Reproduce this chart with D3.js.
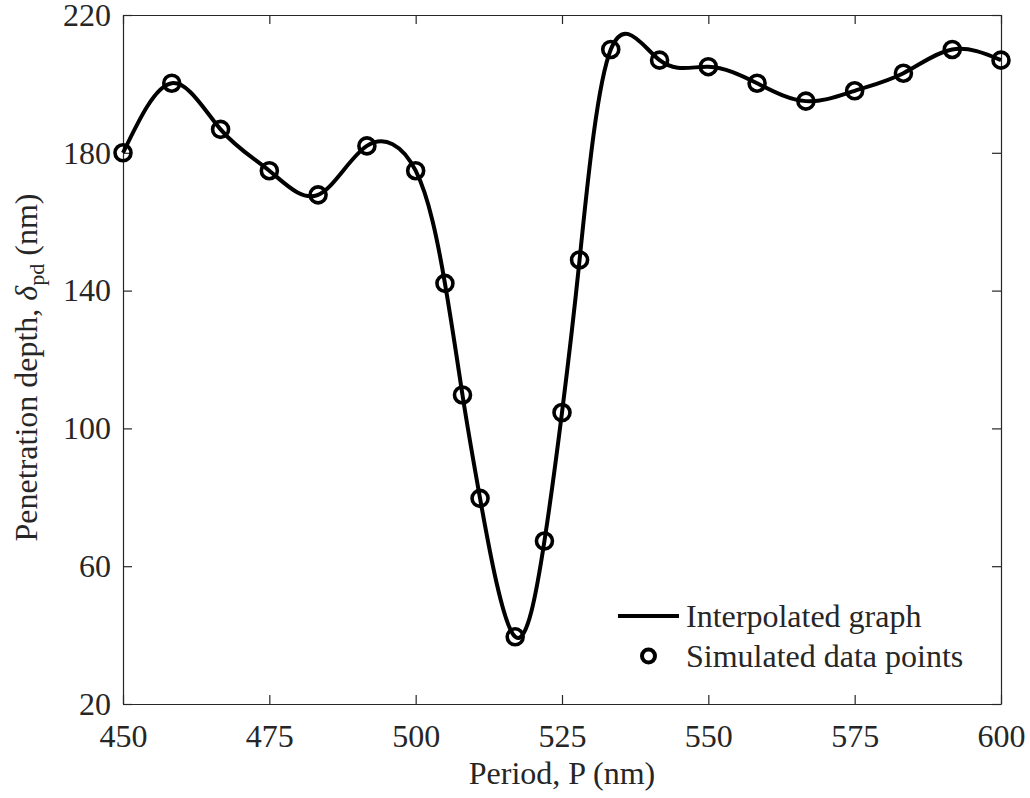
<!DOCTYPE html>
<html>
<head>
<meta charset="utf-8">
<script src="https://cdn.jsdelivr.net/npm/d3@7"></script>
<style>
  body { margin: 0; background: #fff; }
  svg { display: block; }
  text { font-family: "Liberation Serif", "Times New Roman", serif; fill: #262626; }
</style>
</head>
<body>
<div id="chart"></div>
<script>
// simulated data points
const period = [450, 458.33, 466.67, 475, 483.33, 491.67, 500, 505, 508, 511, 517, 522,
  525, 528, 533.33, 541.67, 550, 558.33, 566.67, 575, 583.33, 591.67, 600]
const depth = [180, 200.2, 186.8, 174.8, 167.8, 182.0, 174.8, 142.1, 109.7, 79.7, 39.5, 67.3,
  104.6, 148.9, 210.0, 206.9, 205.0, 200.2, 195.0, 198.0, 203.1, 210.0, 206.9]

const xTicks = [450, 475, 500, 525, 550, 575, 600]
const yTicks = [20, 60, 100, 140, 180, 220]
const legendLabels = ["Interpolated graph", "Simulated data points"]

const width = 1030
const height = 798
const margin = { top: 15, right: 29, bottom: 94, left: 123 }

const points = period.map((p, i) => ({ p, d: depth[i] }))

const svg = d3.select("#chart")
  .append("svg")
  .attr("width", width)
  .attr("height", height)

const x = d3.scaleLinear()
  .domain([450, 600])
  .range([margin.left, width - margin.right])

const y = d3.scaleLinear()
  .domain([20, 220])
  .range([height - margin.bottom, margin.top])

const axisColor = "#262626"

// axes (box on, ticks inward)
const styleAxis = (g) => {
  g.attr("font-family", null).attr("font-size", null)
  g.select(".domain").attr("stroke", axisColor).attr("stroke-width", 1.2)
  g.selectAll(".tick line").attr("stroke", axisColor).attr("stroke-width", 1.2)
  g.selectAll("text")
    .attr("font-size", 32)
    .attr("fill", axisColor)
}

svg.append("g")
  .attr("transform", `translate(0,${y(20)})`)
  .call(d3.axisBottom(x).tickValues(xTicks).tickSizeInner(-9).tickSizeOuter(0).tickPadding(20))
  .call(styleAxis)

svg.append("g")
  .attr("transform", `translate(0,${y(220)})`)
  .call(d3.axisTop(x).tickValues(xTicks).tickSizeInner(-9).tickSizeOuter(0).tickFormat(""))
  .call(styleAxis)

svg.append("g")
  .attr("transform", `translate(${x(450)},0)`)
  .call(d3.axisLeft(y).tickValues(yTicks).tickSizeInner(-9).tickSizeOuter(0).tickPadding(12))
  .call(styleAxis)

svg.append("g")
  .attr("transform", `translate(${x(600)},0)`)
  .call(d3.axisRight(y).tickValues(yTicks).tickSizeInner(-9).tickSizeOuter(0).tickFormat(""))
  .call(styleAxis)

// interpolated curve through the simulated points
const line = d3.line()
  .x(d => x(d.p))
  .y(d => y(d.d))
  .curve(d3.curveNatural)

svg.append("path")
  .datum(points)
  .attr("fill", "none")
  .attr("stroke", "#000")
  .attr("stroke-width", 4)
  .attr("stroke-linejoin", "round")
  .attr("d", line)

svg.append("g")
  .selectAll("circle")
  .data(points)
  .join("circle")
  .attr("cx", d => x(d.p))
  .attr("cy", d => y(d.d))
  .attr("r", 8)
  .attr("fill", "none")
  .attr("stroke", "#000")
  .attr("stroke-width", 3.6)

// axis labels
svg.append("text")
  .attr("x", x(525))
  .attr("y", 784)
  .attr("text-anchor", "middle")
  .attr("font-size", 32)
  .text("Period, P (nm)")

const yLabel = svg.append("text")
  .attr("transform", `translate(37,${(y(20) + y(220)) / 2 + 8}) rotate(-90)`)
  .attr("text-anchor", "middle")
  .attr("font-size", 32)
yLabel.append("tspan").text("Penetration depth, ")
yLabel.append("tspan").attr("font-style", "italic").text("δ")
yLabel.append("tspan").attr("font-size", 22).attr("dy", 7).text("pd")
yLabel.append("tspan").attr("dy", -7).text(" (nm)")

// legend
const legend = svg.append("g")
legend.append("line")
  .attr("x1", 618).attr("x2", 679)
  .attr("y1", 616).attr("y2", 616)
  .attr("stroke", "#000")
  .attr("stroke-width", 4)
legend.append("circle")
  .attr("cx", 648.5).attr("cy", 656)
  .attr("r", 6.5)
  .attr("fill", "none")
  .attr("stroke", "#000")
  .attr("stroke-width", 4)
legend.selectAll("text.leg")
  .data(legendLabels)
  .join("text")
  .attr("class", "leg")
  .attr("x", 686)
  .attr("y", (d, i) => 627 + i * 40)
  .attr("font-size", 32)
  .attr("fill", "#000")
  .text(d => d)
</script>
</body>
</html>
